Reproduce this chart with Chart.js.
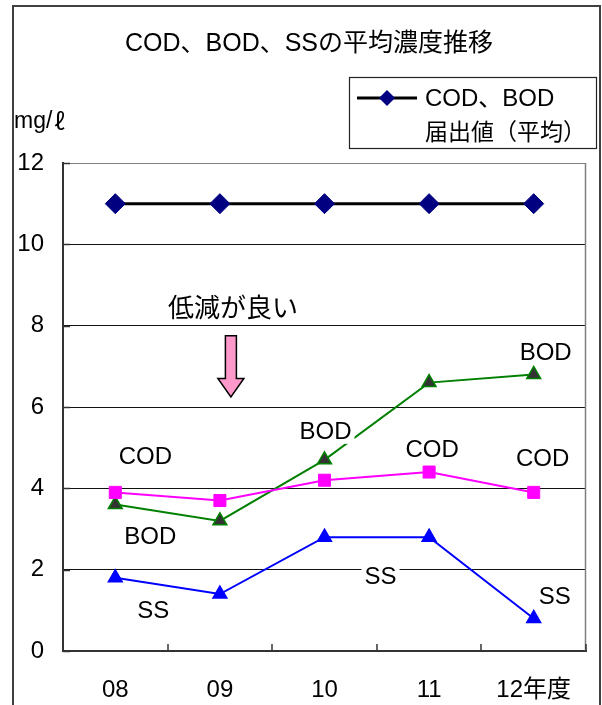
<!DOCTYPE html>
<html lang="ja">
<head>
<meta charset="utf-8">
<title>COD、BOD、SSの平均濃度推移</title>
<script src="https://cdn.jsdelivr.net/npm/chart.js@4/dist/chart.umd.min.js"></script>
<style>
  html, body { margin: 0; padding: 0; background: #fff; }
  #wrap { width: 602px; height: 705px; }
</style>
</head>
<body>
<div id="wrap"><canvas id="c" width="602" height="705"></canvas></div>
<script>
// Fiscal years (x categories)
const years = ['08', '09', '10', '11', '12年度'];
// Notified value for COD / BOD (average), mg/ℓ
const codBodLimit = [11, 11, 11, 11, 11];
// Average concentrations, mg/ℓ
const codValues = [3.9, 3.7, 4.2, 4.4, 3.9];
const bodValues = [3.6, 3.2, 4.7, 6.6, 6.8];
const ssValues  = [1.8, 1.4, 2.8, 2.8, 0.8];
// Y axis range and tick step
const yMin = 0, yMax = 12, yStep = 2;

const LATIN = '"Liberation Sans", Arial, "Noto Sans CJK JP", sans-serif';
const CJK = '"Noto Sans CJK JP", "Liberation Sans", sans-serif';

// Everything drawn around the plot: frame, title, unit, legend, note, arrow, series labels
const decor = {
  id: 'decor',
  beforeDraw(chart) {
    const ctx = chart.ctx;
    ctx.save();
    ctx.fillStyle = '#fff';
    ctx.fillRect(0, 0, chart.width, chart.height);
    ctx.restore();
  },
  afterDatasetsDraw(chart) {
    const { ctx, chartArea: a, scales: { x, y } } = chart;
    ctx.save();

    // right edge of the plot area
    ctx.strokeStyle = '#808080';
    ctx.lineWidth = 1.5;
    ctx.beginPath();
    ctx.moveTo(Math.round(a.right) - 0.5, a.top);
    ctx.lineTo(Math.round(a.right) - 0.5, a.bottom);
    ctx.stroke();

    // inside tick marks between categories
    ctx.strokeStyle = '#333';
    ctx.lineWidth = 1.5;
    for (let i = 0; i < years.length; i++) {
      const px = i < years.length - 1
        ? (x.getPixelForValue(i) + x.getPixelForValue(i + 1)) / 2
        : a.right;
      ctx.beginPath();
      ctx.moveTo(Math.round(px), a.bottom);
      ctx.lineTo(Math.round(px), a.bottom - 7);
      ctx.stroke();
    }
    // inside tick marks on the value axis
    for (let v = yMin; v <= yMax; v += yStep) {
      const py = Math.round(y.getPixelForValue(v)) + 0.5;
      ctx.beginPath();
      ctx.moveTo(a.left, py);
      ctx.lineTo(a.left + 7, py);
      ctx.stroke();
    }

    // outer frame
    ctx.strokeStyle = '#404040';
    ctx.lineWidth = 2;
    ctx.strokeRect(13, 6, 587, 760);

    // title
    ctx.fillStyle = '#000';
    ctx.textBaseline = 'middle';
    ctx.textAlign = 'center';
    ctx.font = '25px ' + LATIN;
    ctx.fillText('COD、BOD、SSの平均濃度推移', 309, 44);

    // unit
    ctx.textAlign = 'left';
    ctx.font = '23px ' + LATIN;
    ctx.fillText('mg/', 14, 122);
    const uw = ctx.measureText('mg/').width;
    ctx.font = '23px ' + CJK;
    ctx.fillText('ℓ', 14 + uw + 2, 121);

    // legend
    ctx.strokeStyle = '#222';
    ctx.lineWidth = 1.2;
    ctx.strokeRect(349.5, 77.5, 247, 71);
    ctx.strokeStyle = '#000';
    ctx.lineWidth = 3;
    ctx.beginPath();
    ctx.moveTo(357, 98);
    ctx.lineTo(417, 98);
    ctx.stroke();
    ctx.fillStyle = '#000080';
    ctx.beginPath();
    ctx.moveTo(387, 90); ctx.lineTo(395, 98); ctx.lineTo(387, 106); ctx.lineTo(379, 98);
    ctx.closePath();
    ctx.fill();
    ctx.fillStyle = '#000';
    ctx.font = '24px ' + LATIN;
    ctx.fillText('COD、BOD', 425, 99);
    ctx.font = '23px ' + CJK;
    ctx.fillText('届出値（平均）', 425, 131);

    // note and arrow
    const ax = x.getPixelForValue(1) + 11;
    ctx.textAlign = 'center';
    ctx.font = '26px ' + CJK;
    ctx.fillText('低減が良い', ax + 2, y.getPixelForValue(8.46));
    const top = y.getPixelForValue(7.75);
    const neck = y.getPixelForValue(6.7);
    const tip = y.getPixelForValue(6.25);
    ctx.beginPath();
    ctx.moveTo(ax - 5.5, top);
    ctx.lineTo(ax + 5.5, top);
    ctx.lineTo(ax + 5.5, neck);
    ctx.lineTo(ax + 13, neck);
    ctx.lineTo(ax, tip);
    ctx.lineTo(ax - 13, neck);
    ctx.lineTo(ax - 5.5, neck);
    ctx.closePath();
    ctx.fillStyle = '#FF99CC';
    ctx.fill();
    ctx.strokeStyle = '#000';
    ctx.lineWidth = 1.5;
    ctx.stroke();

    // series name labels next to points
    const seriesLabels = [
      { ds: 1, i: 0, text: 'COD', dx: 30, dy: -36 },
      { ds: 2, i: 0, text: 'BOD', dx: 35, dy: 32 },
      { ds: 3, i: 0, text: 'SS',  dx: 38, dy: 33 },
      { ds: 2, i: 2, text: 'BOD', dx: 1,  dy: -28 },
      { ds: 3, i: 2, text: 'SS',  dx: 56, dy: 39 },
      { ds: 1, i: 3, text: 'COD', dx: 3,  dy: -23 },
      { ds: 2, i: 4, text: 'BOD', dx: 12, dy: -22 },
      { ds: 1, i: 4, text: 'COD', dx: 9,  dy: -34 },
      { ds: 3, i: 4, text: 'SS',  dx: 21, dy: -22 }
    ];
    ctx.font = '24px ' + LATIN;
    ctx.textAlign = 'center';
    ctx.textBaseline = 'middle';
    for (const l of seriesLabels) {
      const pt = chart.getDatasetMeta(l.ds).data[l.i];
      const lx = pt.x + l.dx, ly = pt.y + l.dy;
      const w = ctx.measureText(l.text).width;
      ctx.fillStyle = '#fff';
      ctx.fillRect(lx - w / 2 - 3, ly - 12, w + 6, 24);
      ctx.fillStyle = '#000';
      ctx.fillText(l.text, lx, ly + 1);
    }
    ctx.restore();
  }
};

new Chart(document.getElementById('c'), {
  type: 'line',
  data: {
    labels: years,
    datasets: [
      {
        label: 'COD、BOD 届出値（平均）',
        data: codBodLimit,
        borderColor: '#000',
        borderWidth: 3,
        pointStyle: 'rectRot',
        pointRadius: 10,
        pointBackgroundColor: '#000080',
        pointBorderColor: '#000080',
        pointBorderWidth: 1
      },
      {
        label: 'COD',
        data: codValues,
        borderColor: '#FF00FF',
        borderWidth: 2,
        pointStyle: 'rect',
        pointRadius: 8.5,
        pointBackgroundColor: '#FF00FF',
        pointBorderColor: '#FF00FF',
        pointBorderWidth: 1
      },
      {
        label: 'BOD',
        data: bodValues,
        borderColor: '#008000',
        borderWidth: 2,
        pointStyle: 'triangle',
        pointRadius: 8,
        pointBackgroundColor: '#333333',
        pointBorderColor: '#008000',
        pointBorderWidth: 1.5
      },
      {
        label: 'SS',
        data: ssValues,
        borderColor: '#0000FF',
        borderWidth: 2,
        pointStyle: 'triangle',
        pointRadius: 8,
        pointBackgroundColor: '#0000FF',
        pointBorderColor: '#0000FF',
        pointBorderWidth: 1.5
      }
    ]
  },
  options: {
    responsive: false,
    animation: false,
    events: [],
    layout: { padding: { left: 13, right: 16, top: 163, bottom: 0 } },
    plugins: {
      legend: { display: false },
      title: { display: false },
      tooltip: { enabled: false }
    },
    scales: {
      x: {
        offset: true,
        grid: { display: false, drawTicks: false },
        border: { display: true, color: '#333', width: 2 },
        ticks: {
          color: '#000',
          padding: 25,
          maxRotation: 0,
          font: { family: LATIN, size: 24 }
        },
        afterFit(scale) { scale.height = 54; }
      },
      y: {
        min: yMin,
        max: yMax,
        grid: {
          drawTicks: false,
          color: (c) => (c.tick && c.tick.value === yMax ? '#808080' : '#111'),
          lineWidth: 1
        },
        border: { display: true, color: '#333', width: 2 },
        ticks: {
          stepSize: yStep,
          color: '#000',
          padding: 19,
          font: { family: LATIN, size: 24 }
        },
        afterFit(scale) { scale.width = 50; }
      }
    }
  },
  plugins: [decor]
});
</script>
</body>
</html>
